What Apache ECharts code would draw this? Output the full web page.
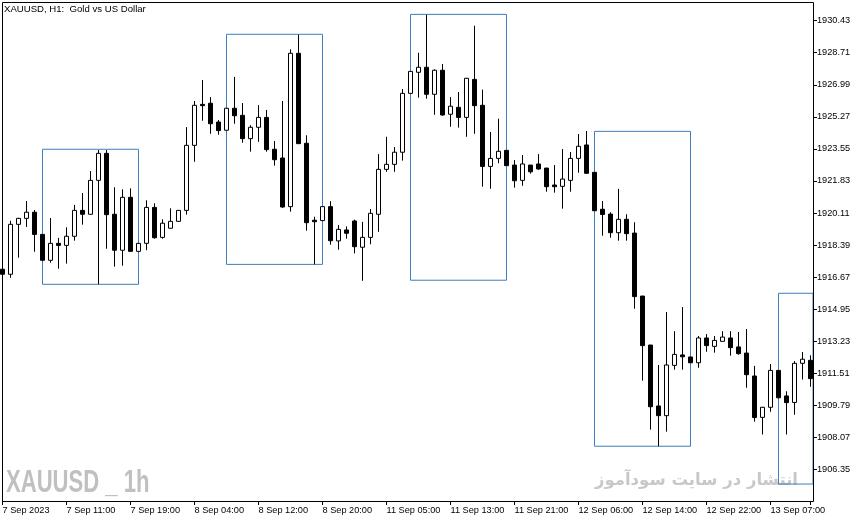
<!DOCTYPE html>
<html><head><meta charset="utf-8">
<script src="https://cdn.jsdelivr.net/npm/echarts@6/dist/echarts.min.js"></script>
<style>html,body{margin:0;padding:0;background:#fff}#c{width:866px;height:522px}</style>
</head><body><div id="c"></div>
<script>
const opens = [1917.09,1916.82,1919.50,1919.82,1920.15,1918.96,1917.57,1918.48,1918.37,1918.86,
1920.25,1920.04,1921.86,1923.31,1920.04,1918.11,1920.95,1918.05,1918.48,1920.41,
1918.80,1919.29,1919.66,1920.25,1923.74,1925.94,1926.00,1924.99,1924.55,1925.73,
1925.35,1924.10,1924.71,1925.24,1923.53,1923.06,1920.45,1928.68,1923.85,1919.72,
1919.70,1920.45,1918.61,1919.20,1919.68,1918.27,1918.80,1920.04,1922.45,1922.72,
1923.37,1926.53,1927.66,1927.93,1926.48,1927.77,1925.41,1925.78,1925.24,1927.28,
1925.89,1922.61,1923.04,1923.47,1922.68,1921.86,1922.68,1922.74,1922.52,1921.61,
1921.54,1921.86,1923.04,1923.76,1922.29,1920.31,1920.05,1919.05,1919.77,1919.03,
1915.65,1913.02,1909.75,1909.23,1911.93,1912.49,1912.38,1912.07,1913.40,1912.95,
1913.22,1913.40,1912.92,1912.59,1911.36,1909.14,1909.68,1911.66,1910.29,1909.94,
1912.04,1912.20];
const highs = [1917.16,1919.69,1919.85,1920.75,1920.27,1918.98,1919.84,1918.77,1919.34,1920.54,
1921.18,1922.36,1923.49,1923.49,1921.49,1921.38,1921.43,1918.50,1920.79,1920.63,
1919.77,1920.36,1920.27,1924.72,1926.12,1927.25,1926.33,1925.10,1925.75,1927.41,
1926.01,1924.82,1925.90,1925.64,1923.97,1926.12,1928.89,1929.68,1924.28,1919.91,
1920.46,1920.74,1919.46,1919.39,1919.75,1919.63,1920.32,1923.27,1924.20,1923.65,
1926.76,1927.73,1928.71,1930.75,1927.82,1928.11,1926.33,1926.60,1927.36,1930.16,
1926.73,1924.46,1925.17,1923.49,1922.95,1923.22,1922.69,1923.27,1922.53,1922.68,
1923.54,1923.38,1924.35,1924.51,1922.31,1920.75,1920.15,1921.40,1920.04,1919.61,
1915.66,1913.03,1911.95,1914.79,1913.77,1915.06,1912.39,1913.51,1913.61,1913.51,
1913.77,1913.77,1913.72,1913.88,1911.90,1909.70,1912.00,1911.68,1910.54,1912.16,
1912.65,1912.47];
const lows = [1916.73,1916.63,1917.71,1919.36,1918.03,1917.53,1917.44,1917.12,1917.39,1918.62,
1919.48,1920.02,1916.28,1918.19,1917.23,1917.28,1918.04,1918.04,1918.11,1918.73,
1918.73,1919.28,1919.64,1920.02,1922.86,1925.06,1924.36,1924.31,1924.54,1924.90,
1923.88,1923.40,1923.93,1923.40,1922.65,1920.39,1920.18,1923.81,1919.16,1917.35,
1919.68,1918.41,1918.14,1918.73,1917.94,1916.47,1918.43,1919.10,1922.32,1922.32,
1922.92,1926.52,1926.30,1926.24,1925.38,1925.33,1924.74,1924.69,1924.20,1924.36,
1921.52,1921.41,1922.78,1922.63,1921.47,1921.57,1922.22,1922.43,1921.25,1921.20,
1920.34,1921.25,1922.27,1922.23,1920.21,1918.89,1918.78,1918.62,1918.62,1914.97,
1911.11,1908.48,1907.59,1908.37,1911.70,1911.70,1912.05,1911.80,1912.66,1912.61,
1913.21,1912.45,1912.50,1910.73,1908.91,1908.22,1909.44,1910.17,1908.22,1909.28,
1911.17,1910.78];
const closes = [1916.82,1919.50,1919.82,1920.15,1918.96,1917.57,1918.48,1918.37,1918.86,1920.25,
1920.04,1921.86,1923.31,1920.02,1918.11,1920.95,1918.05,1918.48,1920.41,1918.78,
1919.56,1919.66,1920.25,1923.74,1925.89,1925.87,1924.90,1924.53,1925.73,1925.33,
1924.10,1924.71,1925.24,1923.51,1922.97,1920.43,1928.68,1923.83,1919.59,1919.64,
1920.45,1918.62,1919.23,1919.02,1918.30,1918.80,1920.09,1922.45,1922.72,1923.37,
1926.53,1927.71,1927.93,1926.48,1927.77,1925.37,1925.84,1925.24,1927.34,1925.87,
1922.61,1923.04,1923.42,1922.65,1921.84,1922.74,1922.32,1922.47,1921.52,1921.52,
1921.93,1923.04,1923.69,1922.24,1920.23,1920.03,1919.05,1919.77,1919.00,1915.62,
1912.99,1909.71,1909.23,1911.95,1912.52,1912.39,1912.07,1913.40,1912.99,1913.27,
1913.45,1912.88,1912.56,1911.43,1909.13,1909.68,1911.66,1910.19,1909.93,1912.04,
1912.26,1911.22];
const xTickLabels = ['7 Sep 2023','7 Sep 11:00','7 Sep 19:00','8 Sep 04:00','8 Sep 12:00','8 Sep 20:00',
'11 Sep 05:00','11 Sep 13:00','11 Sep 21:00','12 Sep 06:00','12 Sep 14:00','12 Sep 22:00','13 Sep 07:00'];
const yTickValues = [1906.35,1908.07,1909.79,1911.51,1913.23,1914.95,1916.67,1918.39,1920.11,
1921.83,1923.55,1925.27,1926.99,1928.71,1930.43];
// boxes: first bar, last bar (null = runs off the right edge), top price, bottom price
const boxFrom = [5, 28, 51, 74, 97];
const boxTo = [17, 40, 63, 86, null];
const boxTop = [1923.53, 1929.70, 1930.77, 1924.49, 1915.80];
const boxBottom = [1916.28, 1917.35, 1916.50, 1907.59, 1905.56];

const GRID_LEFT = 2.5, GRID_TOP = 3, GRID_W = 808, GRID_H = 498, AXIS_OFF = 2.5;
const FONT = '"Liberation Sans", Arial, sans-serif';

const categories = opens.map((_, i) => String(i));
const ohlc = opens.map((o, i) => [o, closes[i], lows[i], highs[i]]);
const areas = boxFrom.map((f, i) => [
  {xAxis: f, yAxis: boxTop[i]},
  boxTo[i] === null ? {x: GRID_LEFT + GRID_W + AXIS_OFF, yAxis: boxBottom[i]} : {xAxis: boxTo[i], yAxis: boxBottom[i]}
]);

const chart = echarts.init(document.getElementById('c'), null, {renderer: 'canvas'});
chart.setOption({
  animation: false,
  backgroundColor: '#fff',
  title: {
    text: 'XAUUSD, H1:  Gold vs US Dollar', left: 4, top: 4, padding: 0,
    textStyle: {fontSize: 9.6, fontWeight: 'normal', fontFamily: FONT, color: '#000'}
  },
  grid: {left: GRID_LEFT, top: GRID_TOP, width: GRID_W, height: GRID_H, containLabel: false, outerBoundsMode: 'none'},
  xAxis: {
    type: 'category', data: categories, boundaryGap: false,
    axisLine: {show: false},
    axisTick: {show: true, interval: 7, length: 4, lineStyle: {color: '#000'}},
    axisLabel: {interval: 7, align: 'left', margin: 5, color: '#000', fontSize: 9.2, fontFamily: FONT,
      hideOverlap: false, showMaxLabel: true,
      formatter: (v, i) => xTickLabels[i / 8] || ''},
    splitLine: {show: false}
  },
  yAxis: {
    type: 'value', position: 'right', min: 1904.65, max: 1931.38, offset: AXIS_OFF,
    axisLine: {show: false},
    axisTick: {show: true, length: 4, customValues: yTickValues, lineStyle: {color: '#000'}},
    axisLabel: {customValues: yTickValues, formatter: v => v.toFixed(2), margin: 4, color: '#000', fontSize: 9.2, fontFamily: FONT},
    splitLine: {show: false}
  },
  graphic: [
    {type: 'rect', silent: true, z: 100, shape: {x: 2.5, y: 2.5, width: 811, height: 499},
      style: {fill: 'none', stroke: '#000', lineWidth: 1}},
    {type: 'text', silent: true, x: 6, y: 483.5, scaleX: 0.69, z: 1,
      style: {text: 'XAUUSD _ 1h', font: 'bold 32px "Liberation Sans", Arial, sans-serif', fill: '#c0c0c0', verticalAlign: 'middle', align: 'left'}},
    {type: 'text', silent: true, x: 798, y: 481, z: 1,
      style: {text: 'انتشار در سایت سودآموز', font: 'bold 16.5px "DejaVu Sans", sans-serif', fill: '#c8c8c8', verticalAlign: 'middle', align: 'right'}}
  ],
  series: [{
    type: 'candlestick', data: ohlc, barWidth: 4, clip: false, silent: true,
    itemStyle: {color: '#fff', color0: '#000', borderColor: '#000', borderColor0: '#000', borderWidth: 1},
    markArea: {silent: true, itemStyle: {color: 'rgba(0,0,0,0)', borderColor: '#3c7fbf', borderWidth: 1}, data: areas}
  }]
});
</script></body></html>
